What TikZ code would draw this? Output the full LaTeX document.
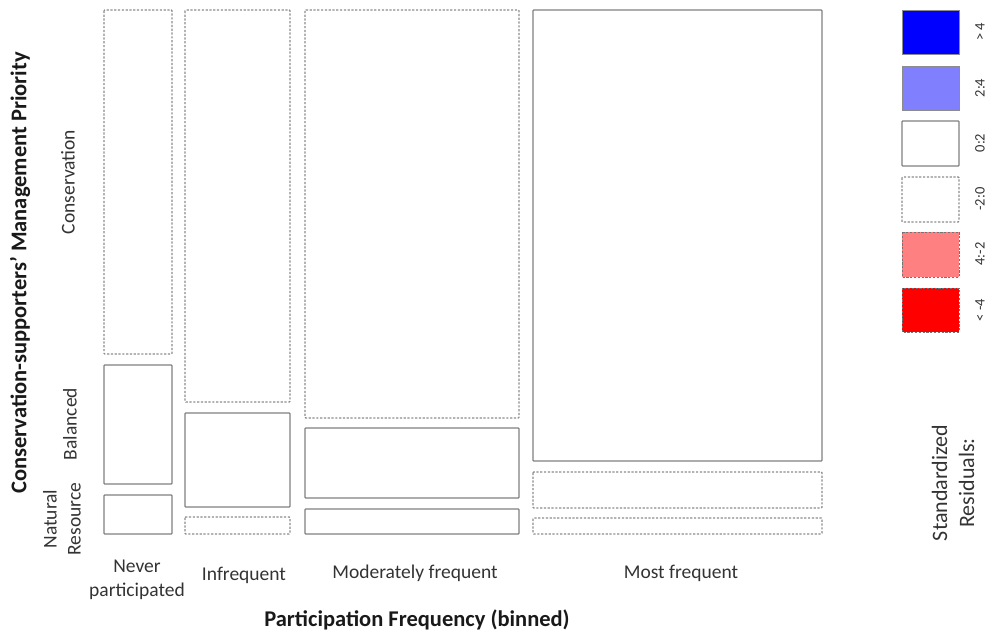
\documentclass[tikz,border=0pt]{standalone}
\usepackage{fontspec}
\setmainfont{Carlito}
\begin{document}
\begin{tikzpicture}[x=1pt,y=-1pt,
  cell/.style={line width=1.3pt, rounded corners=0.8pt},
  poscell/.style={cell, draw=black!50},
  negcell/.style={cell, draw=black!45, dash pattern=on 2.2pt off 1.6pt},
  lab/.style={font=\fontsize{19.5}{24}\selectfont, text=black!80, inner sep=0pt},
  ttl/.style={font=\fontsize{22.5}{26}\selectfont\bfseries, text=black!90, inner sep=0pt},
  leglab/.style={font=\fontsize{14.5}{16}\selectfont, text=black!80, inner sep=0pt, rotate=90}]
\useasboundingbox (0,0) rectangle (991,635);

% mosaic cells: column = participation frequency, row = management priority
% Never participated
\draw[negcell] (104,10) rectangle (172,354);
\draw[poscell] (104,365) rectangle (172,484);
\draw[poscell] (104,495) rectangle (172,534);
% Infrequent
\draw[negcell] (185,10) rectangle (290,402);
\draw[poscell] (185,413) rectangle (290,507);
\draw[negcell] (185,517) rectangle (290,534);
% Moderately frequent
\draw[negcell] (305,10) rectangle (519,418);
\draw[poscell] (305,428) rectangle (519,498);
\draw[poscell] (305,509) rectangle (519,534);
% Most frequent
\draw[poscell] (533,10) rectangle (822,461);
\draw[negcell] (533,472) rectangle (822,508);
\draw[negcell] (533,518) rectangle (822,534);

% row labels
\node[lab, rotate=90] (rcons) at (68,182) {Conservation};
\node[lab, rotate=90] (rbal) at (70,424) {Balanced};
\node[lab, rotate=90, align=center] (rnat) at (62,519) {Natural\\Resource};

% column labels
\node[lab, align=center] (cnever) at (137,580) {Never\\participated};
\node[lab] (cinf) at (244,575) {Infrequent};
\node[lab] (cmod) at (415,573) {Moderately frequent};
\node[lab] (cmost) at (681,573) {Most frequent};

% axis titles
\node[ttl] (xtitle) at (417,620) {Participation Frequency (binned)};
\node[ttl, rotate=90] (ytitle) at (20,273) {Conservation-supporters’ Management Priority};

% legend of standardized residuals
\draw[line width=1pt, draw=black!45, fill={rgb,255:red,0;green,0;blue,255}] (902,10) rectangle (959,54);
\draw[line width=1pt, draw=black!45, fill={rgb,255:red,128;green,128;blue,255}] (902,66) rectangle (959,110);
\draw[poscell] (902,121) rectangle (959,166);
\draw[negcell] (902,177) rectangle (959,222);
\draw[line width=1pt, draw=black!55, dash pattern=on 2.2pt off 1.6pt, fill={rgb,255:red,255;green,128;blue,128}] (902,232) rectangle (959,277);
\draw[line width=1pt, draw=black!55, dash pattern=on 2.2pt off 1.6pt, fill={rgb,255:red,255;green,0;blue,0}] (902,288) rectangle (959,332);

\node[leglab] (l1) at (980,32) {> 4};
\node[leglab] (l2) at (980,88) {2:4};
\node[leglab] (l3) at (980,143) {0:2};
\node[leglab] (l4) at (980,199) {-2:0};
\node[leglab] (l5) at (980,254) {4:-2};
\node[leglab] (l6) at (980,310) {< -4};

\node[lab, font=\fontsize{22}{27}\selectfont, rotate=90, align=center] (legtitle) at (953,483) {Standardized\\Residuals:};
\end{tikzpicture}
\end{document}
